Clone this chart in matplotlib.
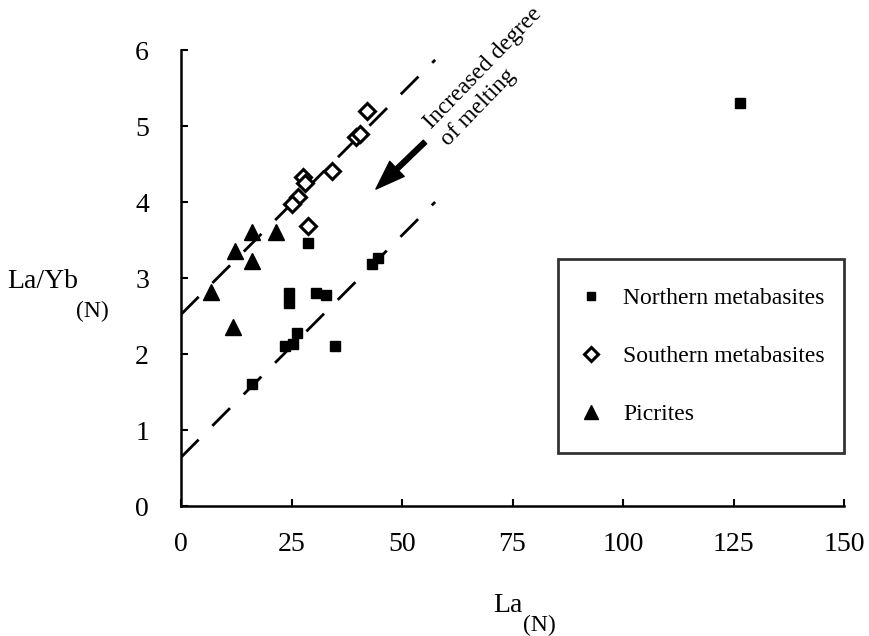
import matplotlib.pyplot as plt

plt.rcParams['font.family'] = ['Liberation Serif', 'DejaVu Serif']

# La(N) and La/Yb(N)
northern_la = [126.5, 28.8, 43.1, 44.6, 24.5, 24.5, 30.5, 32.7, 26.3, 23.5, 25.4, 34.8, 16.0]
northern_ratio = [5.30, 3.46, 3.19, 3.26, 2.80, 2.67, 2.80, 2.77, 2.27, 2.10, 2.13, 2.10, 1.60]

southern_la = [42.0, 39.7, 40.5, 34.1, 27.7, 28.0, 26.5, 25.0, 28.8]
southern_ratio = [5.20, 4.85, 4.90, 4.41, 4.33, 4.25, 4.07, 3.98, 3.68]

picrite_la = [16.0, 21.6, 12.2, 16.0, 6.7, 11.8]
picrite_ratio = [3.61, 3.60, 3.35, 3.22, 2.81, 2.36]

# parallel trend lines (end points)
trend_la = [0, 57.5]
upper_trend = [2.52, 5.87]
lower_trend = [0.64, 4.0]

melt_arrow_from = (55.2, 4.79)
melt_arrow_to = (44.1, 4.17)

xticks = [0, 25, 50, 75, 100, 125, 150]
yticks = [0, 1, 2, 3, 4, 5, 6]

W, H = 869, 636
fig = plt.figure(figsize=(W / 100, H / 100), dpi=100)
ax = fig.add_axes([181 / W, (H - 506) / H, (844 - 181) / W, (506 - 50) / H])

dash = (9, 7)
ax.plot(trend_la, upper_trend, color='black', lw=2, dashes=dash)
ax.plot(trend_la, lower_trend, color='black', lw=2, dashes=dash)

ax.plot(northern_la, northern_ratio, 's', ms=6.8, color='black',
        label='Northern metabasites')
ax.plot(southern_la, southern_ratio, 'D', ms=8, mfc='white', mec='black',
        mew=2.2, label='Southern metabasites')
ax.plot(picrite_la, picrite_ratio, '^', ms=11, color='black', label='Picrites')

ax.annotate('', xy=melt_arrow_to, xytext=melt_arrow_from,
            arrowprops=dict(width=3.5, headwidth=15, headlength=21,
                            facecolor='black', edgecolor='black'))
ax.text(70.3, 5.65, 'Increased degree\nof melting', rotation=46,
        ha='center', va='center', multialignment='left', fontsize=17)

ax.set_xlim(0, 150)
ax.set_ylim(0, 6)
ax.set_xticks(xticks)
ax.set_yticks(yticks)
ax.spines[['top', 'right']].set_visible(False)
for s in ('left', 'bottom'):
    ax.spines[s].set_linewidth(1.8)
ax.tick_params(direction='in', length=5, width=1.5, labelsize=20)
ax.tick_params(axis='x', pad=19)
ax.tick_params(axis='y', pad=23)

# legend box spans La 85.3..150 on the x axis
leg_left = (558 - 181) / (844 - 181)
leg_top = (506 - 259) / 456
leg = ax.legend(loc='upper left', mode='expand',
                bbox_to_anchor=(leg_left, leg_top - 0.5, 1 - leg_left, 0.5),
                borderaxespad=0, fontsize=17, frameon=True, fancybox=False,
                borderpad=1.2, labelspacing=1.55, handlelength=0.4,
                handletextpad=1.17, markerscale=0.9)
leg.get_frame().set_edgecolor('black')
leg.get_frame().set_linewidth(2)

# axis labels with subscripts
fig.text(7 / W, 1 - 288 / H, 'La/Yb', fontsize=20, va='baseline')
fig.text(76 / W, 1 - 317 / H, '(N)', fontsize=17, va='baseline')
fig.text(493 / W, 1 - 612 / H, 'La', fontsize=20, va='baseline')
fig.text(523 / W, 1 - 631 / H, '(N)', fontsize=17, va='baseline')

fig.savefig('out.png', dpi=100)
